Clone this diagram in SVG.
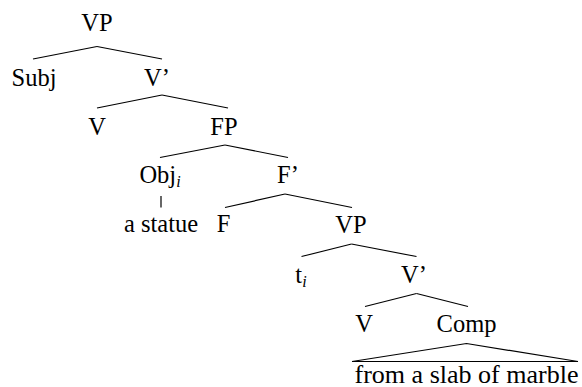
<svg xmlns="http://www.w3.org/2000/svg" width="582" height="387" viewBox="0 0 582 387">
<rect width="582" height="387" fill="#fff"/>
<g id="connectors" stroke="#000" stroke-width="1.2" fill="none">
<line x1="97" y1="46.5" x2="33" y2="59"/>
<line x1="97" y1="46.5" x2="162" y2="59"/>
<line x1="162" y1="95" x2="97" y2="108"/>
<line x1="162" y1="95" x2="228" y2="108"/>
<line x1="225" y1="145" x2="160" y2="157.5"/>
<line x1="225" y1="145" x2="288" y2="157.5"/>
<line x1="161" y1="196" x2="161" y2="207.5"/>
<line x1="285" y1="194" x2="225" y2="207.5"/>
<line x1="285" y1="194" x2="352" y2="207.5"/>
<line x1="351.5" y1="244" x2="301.5" y2="256.5"/>
<line x1="351.5" y1="244" x2="416.5" y2="256.5"/>
<line x1="416.5" y1="293.5" x2="365" y2="306.5"/>
<line x1="416.5" y1="293.5" x2="468" y2="306.5"/>
<polyline points="352,361.5 466.5,343.5 578,361.5"/>
<line x1="352" y1="361.5" x2="578" y2="361.5"/>
</g>
<g id="n-vp1"><text x="97" y="31" font-family="Liberation Serif" font-size="24.5" text-anchor="middle">VP</text></g>
<g id="n-subj"><text x="34" y="86" font-family="Liberation Serif" font-size="24.5" text-anchor="middle">Subj</text></g>
<g id="n-vbar1"><text x="157" y="86" font-family="Liberation Serif" font-size="24.5" text-anchor="middle">V&#8217;</text></g>
<g id="n-v1"><text x="97" y="135" font-family="Liberation Serif" font-size="24.5" text-anchor="middle">V</text></g>
<g id="n-fp"><text x="224" y="135" font-family="Liberation Serif" font-size="24.5" text-anchor="middle">FP</text></g>
<g id="n-obj"><text x="160" y="183" font-family="Liberation Serif" font-size="24.5" text-anchor="middle">Obj<tspan font-size="16" font-style="italic" dy="4">i</tspan></text></g>
<g id="n-fbar"><text x="288" y="183" font-family="Liberation Serif" font-size="24.5" text-anchor="middle">F&#8217;</text></g>
<g id="n-statue"><text x="161" y="232" font-family="Liberation Serif" font-size="24.5" text-anchor="middle">a statue</text></g>
<g id="n-f"><text x="223.5" y="232" font-family="Liberation Serif" font-size="24.5" text-anchor="middle">F</text></g>
<g id="n-vp2"><text x="351" y="233" font-family="Liberation Serif" font-size="24.5" text-anchor="middle">VP</text></g>
<g id="n-t"><text x="301" y="283" font-family="Liberation Serif" font-size="24.5" text-anchor="middle">t<tspan font-size="16" font-style="italic" dy="4">i</tspan></text></g>
<g id="n-vbar2"><text x="414" y="283" font-family="Liberation Serif" font-size="24.5" text-anchor="middle">V&#8217;</text></g>
<g id="n-v2"><text x="364" y="332" font-family="Liberation Serif" font-size="24.5" text-anchor="middle">V</text></g>
<g id="n-comp"><text x="466.5" y="332" font-family="Liberation Serif" font-size="24.5" text-anchor="middle">Comp</text></g>
<g id="n-marble"><text x="466.5" y="383" font-family="Liberation Serif" font-size="24.5" text-anchor="middle" textLength="224" lengthAdjust="spacingAndGlyphs">from a slab of marble</text></g>
</svg>
